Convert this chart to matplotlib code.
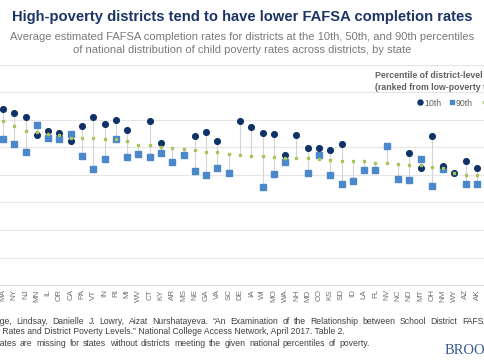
import numpy as np
import matplotlib
matplotlib.use("Agg")
import matplotlib.pyplot as plt
from matplotlib.lines import Line2D

states = ["MA", "NY", "NJ", "MN", "IL", "OR", "CA", "PA", "VT", "IN", "RI", "MI", "WV",
          "CT", "KY", "AR", "MS", "NE", "GA", "VA", "SC", "DE", "IA", "WI", "MO", "WA",
          "NH", "MD", "CO", "KS", "SD", "ID", "LA", "FL", "NV", "NC", "ND", "MT", "OH",
          "NM", "WY", "AZ", "AK"]
nan = np.nan
p10 = [63.9, 62.7, 61.2, 54.4, 56.1, 55.3, 52.5, 57.9, 61.2, 58.5, 59.9, 56.4, nan,
       59.7, 51.7, nan, nan, 54.2, 55.5, 52.5, nan, 59.7, 57.5, 55.2, 54.9, 47.3,
       54.7, 49.9, 49.7, 49.2, 51.2, nan, nan, nan, nan, nan, 47.9, 42.4, 54.2,
       43.3, 40.9, 45.1, 42.7]
p50 = [59.6, 57.9, 55.9, 55.5, 54.8, 54.4, 53.3, 53.5, 53.5, 53.2, 53.0, 52.5, 51.0,
       51.0, 50.1, 49.8, 49.3, 49.1, 48.3, 48.3, 47.5, 47.3, 46.9, 46.9, 46.5, 46.2,
       46.3, 46.1, 45.8, 45.5, 45.1, 45.0, 45.0, 44.4, 44.3, 43.9, 43.6, 43.5, 42.8,
       42.7, 40.8, 40.0, 40.0]
p90 = [53.0, 51.4, 48.3, 58.1, 53.6, 53.2, 55.0, 46.9, 42.2, 45.7, 53.0, 46.7, 47.6,
       46.7, 47.9, 44.8, 47.2, 41.3, 39.9, 42.7, 40.8, nan, nan, 35.5, 40.5, 44.8,
       nan, 40.8, 47.2, 40.0, 36.7, 37.8, 41.8, 41.8, 50.4, 38.5, 38.1, 45.9, 36.1,
       42.2, nan, 36.8, 36.6]
legend_labels = ["10th", "90th", "50th"]

navy = "#0f3368"
blue = "#4a88c9"
green = "#a8c45a"
fam = "Liberation Sans"

W, H = 485, 360
fig = plt.figure(figsize=(W / 100, H / 100), dpi=100)
fig.patch.set_facecolor("white")

axl, axr = -20, 500
ax = fig.add_axes([axl / W, (H - 285) / H, (axr - axl) / W, 220 / H])
step = (477 - 3) / 42
ax.set_xlim((axl - 3) / step, (axr - 3) / step)
ax.set_ylim(0, 80)

x = np.arange(len(states))
a10, a50, a90 = np.array(p10), np.array(p50), np.array(p90)
stack = np.vstack([a10, a50, a90])
lo = np.nanmin(stack, axis=0)
hi = np.nanmax(stack, axis=0)
ax.vlines(x, lo, hi, color="#d4d4d4", lw=0.8, zorder=2)
ax.plot(x, a90, ls="none", marker="s", ms=3.8, color=blue, mec=blue, zorder=4)
ax.plot(x, a10, ls="none", marker="o", ms=4.1, color=navy, mec=navy, zorder=5)
ax.plot(x, a50, ls="none", marker="s", ms=1.7, color=green, zorder=6)

ax.set_yticks(np.arange(0, 81, 10))
ax.yaxis.grid(True, color="#e6e6e6", lw=0.8)
ax.set_axisbelow(True)
for s in ["top", "right", "left"]:
    ax.spines[s].set_visible(False)
ax.spines["bottom"].set_color("#d9d9d9")
ax.spines["bottom"].set_linewidth(0.8)
ax.tick_params(axis="y", left=False, labelleft=False)
ax.tick_params(axis="x", length=0, pad=3, labelsize=5.8, labelcolor="#707070")
ax.set_xticks(x)
ax.set_xticklabels(states, rotation=90, fontfamily=fam)

fig.text(0.5, 1 - 17 / H, "High-poverty districts tend to have lower FAFSA completion rates",
         ha="center", va="center", fontsize=10.6, fontweight="bold", color="#1c3567", family=fam)
fig.text(0.5, 1 - 37 / H,
         "Average estimated FAFSA completion rates for districts at the 10th, 50th, and 90th percentiles",
         ha="center", va="center", fontsize=8.0, color="#7a7a7a", family=fam)
fig.text(0.5, 1 - 50 / H,
         "of national distribution of child poverty rates across districts, by state",
         ha="center", va="center", fontsize=8.0, color="#7a7a7a", family=fam)

fig.text(375 / W, 1 - 75 / H, "Percentile of district-level child poverty",
         ha="left", va="center", fontsize=6.3, fontweight="bold", color="#606060", family=fam)
fig.text(375 / W, 1 - 88 / H, "(ranked from low-poverty to high-poverty)",
         ha="left", va="center", fontsize=6.3, fontweight="bold", color="#606060", family=fam)

handles = [Line2D([], [], ls="none", marker="o", ms=3.6, color=navy),
           Line2D([], [], ls="none", marker="s", ms=3.4, color=blue),
           Line2D([], [], ls="none", marker="s", ms=1.7, color=green)]
leg = fig.legend(handles, legend_labels, loc="center left",
                 bbox_to_anchor=(417 / W, 1 - 103 / H), ncol=3, frameon=False,
                 handlelength=0.6, handletextpad=0.2, columnspacing=0.9,
                 borderaxespad=0, borderpad=0, prop={"family": fam, "size": 6.3})
for t in leg.get_texts():
    t.set_color("#606060")

# footer: justified lines (word spacing stretched like the reference)
renderer = fig.canvas.get_renderer()
foot = dict(ha="left", va="center", fontsize=6.2, color="#404040", family=fam)


def text_width(s):
    t = fig.text(0, 0, s, **foot)
    w = t.get_window_extent(renderer).width
    t.remove()
    return w


def justified(words, y_px, anchor_idx, anchor_left, right_end):
    widths = [text_width(wd) for wd in words]
    rest = widths[anchor_idx:]
    gap = (right_end - anchor_left - sum(rest)) / (len(rest) - 1)
    pos = anchor_left
    for i in range(anchor_idx - 1, -1, -1):
        pos -= gap + widths[i]
    for wd, w in zip(words, widths):
        fig.text(pos / W, 1 - y_px / H, wd, **foot)
        pos += w + gap


line1 = ("Source: Page, Lindsay, Danielle J. Lowry, Aizat Nurshatayeva. \u201cAn Examination "
         "of the Relationship between School District FAFSA").split()
justified(line1, 321, 1, -text_width("Pa"), 489)
line2 = ("Completion Rates and District Poverty Levels.\u201d National College Access Network, "
         "April 2017. Table 2.")
fig.text((2 - text_width("Completion ")) / W, 1 - 332 / H, line2, **foot)
line3 = ("Note: Estimates are missing for states without districts meeting the given "
         "national percentiles of poverty.").split()
justified(line3, 343, 1, -text_width("Estim"), 370)

fig.text(445 / W, 1 - 351 / H, "BROOKINGS", ha="left", va="center", fontsize=10.5,
         color="#3b5b8f", family="Liberation Serif")

fig.savefig("out.png", dpi=100, facecolor="white")
